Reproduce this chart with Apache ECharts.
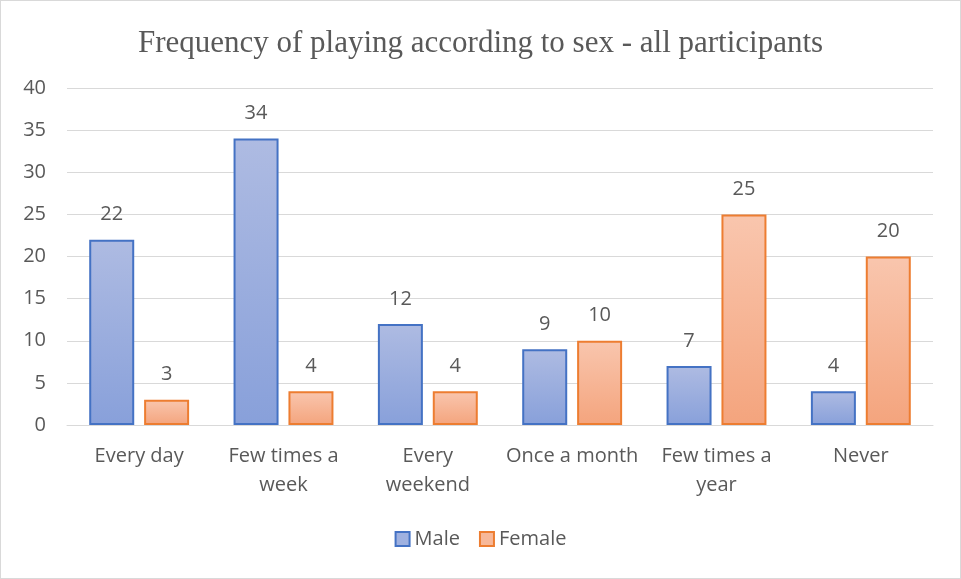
<!DOCTYPE html>
<html>
<head>
<meta charset="utf-8">
<script src="https://cdn.jsdelivr.net/npm/echarts@6/dist/echarts.min.js"></script>
<style>
html, body { margin: 0; padding: 0; background: #fff; }
#chart { width: 961px; height: 579px; box-sizing: border-box; border: 1px solid #d9d9d9; }
</style>
</head>
<body>
<div id="chart"></div>
<script>
// chart data
const categories = ['Every day', 'Few times a\nweek', 'Every\nweekend', 'Once a month', 'Few times a\nyear', 'Never'];
const maleValues = [22, 34, 12, 9, 7, 4];
const femaleValues = [3, 4, 4, 10, 25, 20];
const yTicks = { min: 0, max: 40, interval: 5 };

const textColor = '#595959';
const gridColor = '#d9d9d9';
const bodyFont = 'Open Sans, Noto Sans, sans-serif';

const maleFill = new echarts.graphic.LinearGradient(0, 0, 0, 1, [
    { offset: 0, color: '#aebbe2' },
    { offset: 1, color: '#88a0da' },
]);
const femaleFill = new echarts.graphic.LinearGradient(0, 0, 0, 1, [
    { offset: 0, color: '#f9c6ae' },
    { offset: 1, color: '#f4a47d' },
]);

const chart = echarts.init(document.getElementById('chart'));

const labelStyle = {
    show: true,
    position: 'top',
    distance: 15,
    color: textColor,
    fontSize: 20,
    fontFamily: bodyFont,
};

chart.setOption({
    animation: false,
    title: {
        text: 'Frequency of playing according to sex - all participants',
        left: 'center',
        top: 22,
        textStyle: {
            fontFamily: 'Liberation Serif, serif',
            fontWeight: 'normal',
            fontSize: 31,
            color: textColor,
        },
    },
    grid: {
        left: 66,
        right: 27,
        top: 87,
        bottom: 153,
        containLabel: false,
    },
    legend: {
        bottom: 24,
        left: 'center',
        itemWidth: 14,
        itemHeight: 14,
        itemGap: 19,
        icon: 'rect',
        textStyle: {
            color: textColor,
            fontSize: 20,
            fontFamily: bodyFont,
        },
        data: [
            { name: 'Male', itemStyle: { color: '#9fb1e0', borderColor: '#4472c4', borderWidth: 2 } },
            { name: 'Female', itemStyle: { color: '#f7b899', borderColor: '#ed7d31', borderWidth: 2 } },
        ],
    },
    xAxis: {
        type: 'category',
        data: categories,
        axisLine: { show: true, lineStyle: { color: gridColor } },
        axisTick: { show: false },
        axisLabel: {
            color: textColor,
            fontSize: 20,
            lineHeight: 29,
            margin: 17,
            interval: 0,
            fontFamily: bodyFont,
        },
    },
    yAxis: {
        type: 'value',
        min: yTicks.min,
        max: yTicks.max,
        interval: yTicks.interval,
        axisLine: { show: false },
        axisTick: { show: false },
        splitLine: { lineStyle: { color: gridColor, width: 1 } },
        axisLabel: {
            color: textColor,
            fontSize: 20,
            margin: 21,
            fontFamily: bodyFont,
        },
    },
    series: [
        {
            name: 'Male',
            type: 'bar',
            barWidth: 45,
            barGap: '22%',
            data: maleValues,
            itemStyle: { color: maleFill, borderColor: '#4472c4', borderWidth: 2 },
            label: labelStyle,
        },
        {
            name: 'Female',
            type: 'bar',
            barWidth: 45,
            data: femaleValues,
            itemStyle: { color: femaleFill, borderColor: '#ed7d31', borderWidth: 2 },
            label: labelStyle,
        },
    ],
});
</script>
</body>
</html>
